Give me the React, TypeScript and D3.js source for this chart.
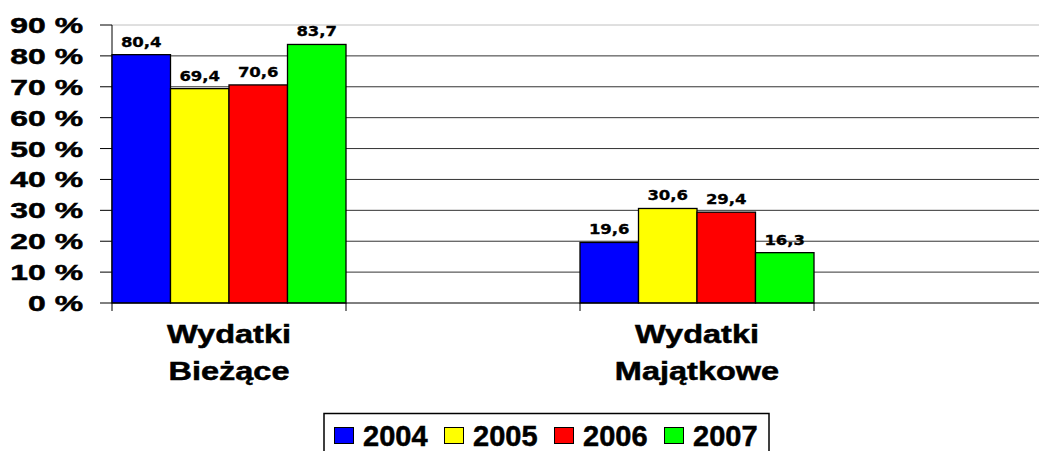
import * as d3 from 'd3'

const categories = ['Wydatki Bieżące', 'Wydatki Majątkowe']
const categoryLines = [
  ['Wydatki', 'Bieżące'],
  ['Wydatki', 'Majątkowe'],
]
const years = ['2004', '2005', '2006', '2007']
const colors = ['#0000ff', '#ffff00', '#ff0000', '#00ff00']
const biezace = [80.4, 69.4, 70.6, 83.7]
const majatkowe = [19.6, 30.6, 29.4, 16.3]
const series = [biezace, majatkowe]
const yTicks = [0, 10, 20, 30, 40, 50, 60, 70, 80, 90]

const W = 1039
const H = 451

export default function App() {
  const margin = { top: 25, left: 112, bottom: 148 }
  const plotRight = 1048
  const y0 = H - margin.bottom

  const y = d3.scaleLinear().domain([0, 90]).range([y0, margin.top])

  // each category sits in a band followed by an empty slot of the same width
  const x = d3
    .scaleBand<string>()
    .domain(categories)
    .range([margin.left, plotRight])
    .paddingInner(0.5)
    .paddingOuter(0.25)
    .align(0)

  const xs = d3.scaleBand<string>().domain(years).range([0, x.bandwidth()])

  const edges: number[] = []
  categories.forEach((c) => {
    edges.push(x(c)!, x(c)! + x.bandwidth())
  })

  const font = '"Liberation Sans", Arial, sans-serif'
  const labelFont = '"DejaVu Sans", Verdana, sans-serif'
  const heavy = { stroke: '#000', strokeWidth: 0.5 }

  const legendX = 324
  const legendStep = 110

  return (
    <svg
      width={W}
      height={H}
      style={{ position: 'absolute', left: 0, top: 0, background: '#fff' }}
    >
      {/* gridlines */}
      {yTicks.slice(1).map((t) => (
        <line
          key={t}
          x1={margin.left}
          x2={plotRight}
          y1={y(t)}
          y2={y(t)}
          stroke={t === 90 ? '#c0c0c0' : '#333'}
          strokeWidth={1}
        />
      ))}

      {/* y axis */}
      <line x1={margin.left} x2={margin.left} y1={margin.top} y2={y0} stroke="#000" />
      {yTicks.map((t) => (
        <g key={t}>
          <line x1={margin.left - 12} x2={margin.left} y1={y(t)} y2={y(t)} stroke="#000" />
          <text
            transform={`translate(83,${y(t) + 8}) scale(1.45,1)`}
            textAnchor="end"
            fontFamily={font}
            fontWeight="bold"
            fontSize={22}
            {...heavy}
          >
            {t} %
          </text>
        </g>
      ))}

      {/* bars */}
      {categories.map((c, ci) => (
        <g key={c} transform={`translate(${x(c)},0)`}>
          {series[ci].map((v, i) => (
            <g key={years[i]}>
              <rect
                x={xs(years[i])}
                y={y(v)}
                width={xs.bandwidth()}
                height={y0 - y(v)}
                fill={colors[i]}
                stroke="#000"
                strokeWidth={1.3}
              />
              <text
                transform={`translate(${xs(years[i])! + xs.bandwidth() / 2},${y(v) - 8}) scale(1.18,1)`}
                textAnchor="middle"
                fontFamily={labelFont}
                fontWeight="bold"
                fontSize={14}
                stroke="#000"
                strokeWidth={0.3}
              >
                {String(v).replace('.', ',')}
              </text>
            </g>
          ))}
        </g>
      ))}

      {/* x axis */}
      <line x1={margin.left} x2={plotRight} y1={y0} y2={y0} stroke="#000" />
      {edges.map((e, i) => (
        <line key={i} x1={e} x2={e} y1={y0} y2={y0 + 8} stroke="#000" />
      ))}
      {categories.map((c, ci) =>
        categoryLines[ci].map((line, li) => (
          <text
            key={c + li}
            transform={`translate(${x(c)! + x.bandwidth() / 2},${343 + li * 37}) scale(1.3,1)`}
            textAnchor="middle"
            fontFamily={font}
            fontWeight="bold"
            fontSize={25}
            {...heavy}
          >
            {line}
          </text>
        ))
      )}

      {/* legend */}
      <rect x={legendX} y={413.5} width={445} height={60} fill="#fff" stroke="#000" strokeWidth={1.5} />
      {years.map((yr, i) => (
        <g key={yr} transform={`translate(${legendX + 10 + i * legendStep},0)`}>
          <rect x={0.5} y={427.5} width={19} height={16} fill={colors[i]} stroke="#000" />
          <text x={29} y={446} fontFamily={font} fontWeight="bold" fontSize={29} {...heavy}>
            {yr}
          </text>
        </g>
      ))}
    </svg>
  )
}
